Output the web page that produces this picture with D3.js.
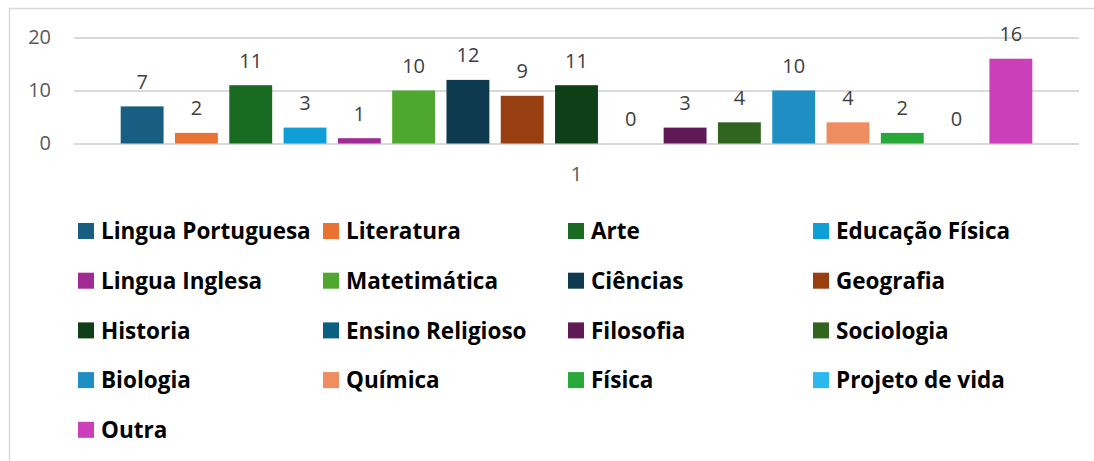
<!DOCTYPE html>
<html>
<head>
<meta charset="utf-8">
<script src="https://cdn.jsdelivr.net/npm/d3@7"></script>
<style>
  body { margin: 0; background: #fff; }
  svg { display: block; font-family: "Open Sans", "Noto Sans", sans-serif; }
</style>
</head>
<body>
<div id="chart"></div>
<script>
const subjects = ["Lingua Portuguesa", "Literatura", "Arte", "Educação Física",
  "Lingua Inglesa", "Matetimática", "Ciências", "Geografia",
  "Historia", "Ensino Religioso", "Filosofia", "Sociologia",
  "Biologia", "Química", "Física", "Projeto de vida", "Outra"];
const values = [7, 2, 11, 3, 1, 10, 12, 9, 11, 0, 3, 4, 10, 4, 2, 0, 16];
const colors = ["#175e82", "#e97132", "#196b24", "#0f9ed5",
  "#a02b93", "#4ea72e", "#0e3a50", "#983f12",
  "#0f3f17", "#0b5f80", "#5f1a56", "#30651f",
  "#1f8fc3", "#ee8d5f", "#29a83a", "#2cb8ef", "#cb3fba"];
const categories = ["1"];
const yTicks = [0, 10, 20];

const width = 1094, height = 461;

const svg = d3.select("#chart").append("svg")
    .attr("width", width).attr("height", height);

// outer frame (only top and left show in the crop)
svg.append("rect")
    .attr("x", 9.5).attr("y", 8.5)
    .attr("width", width + 10).attr("height", height + 10)
    .attr("fill", "none").attr("stroke", "#d9d9d9").attr("stroke-width", 1.5);

const plotLeft = 74, plotRight = 1079;

const x0 = d3.scaleBand().domain(categories).range([plotLeft, plotRight]);
const x1 = d3.scaleBand().domain(subjects)
    .range([x0(categories[0]), x0(categories[0]) + x0.bandwidth()])
    .paddingInner(0.21).paddingOuter(0.86);
const y = d3.scaleLinear().domain([0, 20]).range([143.5, 37.5]);

// gridlines + y labels
const yAxis = d3.axisLeft(y).tickValues(yTicks).tickSize(-(plotRight - plotLeft)).tickPadding(23);
const gy = svg.append("g").attr("transform", `translate(${plotLeft},0)`).call(yAxis);
gy.select(".domain").remove();
gy.selectAll(".tick line").attr("stroke", "#d9d9d9").attr("stroke-width", 2);
gy.selectAll(".tick text")
    .attr("fill", "#595959").attr("font-size", 20).attr("font-family", "Open Sans, sans-serif");

// bars
svg.append("g").selectAll("rect")
  .data(subjects)
  .join("rect")
    .attr("x", d => x1(d))
    .attr("width", x1.bandwidth())
    .attr("y", (d, i) => y(values[i]))
    .attr("height", (d, i) => y(0) - y(values[i]))
    .attr("fill", (d, i) => colors[i]);

// data labels
svg.append("g").selectAll("text")
  .data(subjects)
  .join("text")
    .attr("x", d => x1(d) + x1.bandwidth() / 2)
    .attr("y", (d, i) => y(values[i]) - 17.5)
    .attr("text-anchor", "middle")
    .attr("fill", "#404040")
    .attr("font-size", 20)
    .text((d, i) => values[i]);

// category axis label
const xAxis = d3.axisBottom(x0).tickSize(0).tickPadding(23);
const gx = svg.append("g").attr("transform", `translate(0,${y(0)})`).call(xAxis);
gx.select(".domain").remove();
gx.selectAll(".tick text")
    .attr("fill", "#595959").attr("font-size", 20).attr("font-family", "Open Sans, sans-serif");

// legend
const cols = 4, colW = 245, rowH = 49.7;
const legend = svg.append("g").selectAll("g")
  .data(subjects)
  .join("g")
    .attr("transform", (d, i) => `translate(${78 + (i % cols) * colW},${231 + Math.floor(i / cols) * rowH})`);

legend.append("rect")
    .attr("x", 0).attr("y", -8)
    .attr("width", 16).attr("height", 16)
    .attr("fill", (d, i) => colors[i]);

legend.append("text")
    .attr("x", 23).attr("y", 0).attr("dy", "0.36em")
    .attr("font-size", 22.5).attr("font-weight", "bold").attr("fill", "#000")
    .text(d => d);
</script>
</body>
</html>
